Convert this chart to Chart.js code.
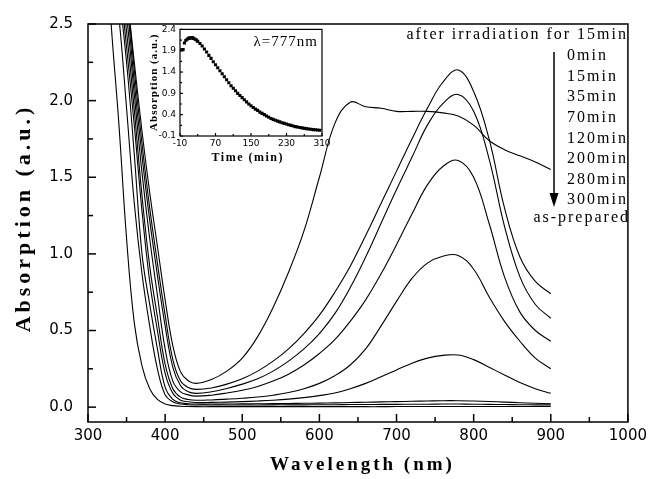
<!DOCTYPE html>
<html><head><meta charset="utf-8">
<script src="https://cdn.jsdelivr.net/npm/chart.js@4.4.0/dist/chart.umd.min.js"></script>
<style>
html,body{margin:0;padding:0;background:#fff;}
#wrap{position:relative;width:652px;height:479px;background:#fff;}
#main{position:absolute;left:0;top:0;}
#inset{position:absolute;left:140px;top:20px;}
</style></head><body>
<div id="wrap"><canvas id="main" width="652" height="479"></canvas><canvas id="inset" width="195" height="150"></canvas></div>
<script>
// ---------- data ----------
const wavelengths = [320,330,340,350,360,370,380,390,400,410,420,430,440,460,480,500,520,540,560,580,600,620,640,660,680,700,720,740,760,780,800,820,840,860,880,900];
const abs0min   = [3.6,3.4,3.05,2.7,2.25,1.8,1.4,1.05,0.7,0.4,0.23,0.172,0.155,0.18,0.235,0.32,0.46,0.65,0.88,1.15,1.5,1.85,1.99,1.96,1.95,1.93,1.93,1.93,1.92,1.9,1.84,1.74,1.68,1.64,1.6,1.55];
const abs15min  = [3.6,3.3,3.0,2.7,2.2,1.72,1.3,0.94,0.6,0.31,0.17,0.128,0.116,0.125,0.15,0.185,0.235,0.3,0.38,0.48,0.6,0.75,0.92,1.12,1.33,1.54,1.75,1.95,2.12,2.2,2.06,1.75,1.3,0.98,0.82,0.74];
const abs35min  = [3.5,3.3,3.0,2.65,2.12,1.64,1.22,0.86,0.53,0.26,0.14,0.1,0.09,0.1,0.122,0.15,0.185,0.235,0.3,0.38,0.48,0.61,0.78,0.98,1.2,1.42,1.63,1.84,1.98,2.04,1.93,1.62,1.18,0.85,0.67,0.58];
const abs70min  = [3.5,3.2,2.9,2.55,2.04,1.53,1.1,0.73,0.38,0.17,0.1,0.08,0.072,0.078,0.092,0.11,0.135,0.17,0.215,0.275,0.35,0.44,0.56,0.7,0.87,1.06,1.26,1.45,1.57,1.61,1.5,1.2,0.85,0.62,0.5,0.43];
const abs120min = [3.4,3.1,2.85,2.45,1.94,1.38,0.92,0.59,0.28,0.12,0.065,0.05,0.045,0.047,0.052,0.058,0.066,0.078,0.095,0.12,0.155,0.205,0.275,0.38,0.53,0.69,0.84,0.94,0.985,0.99,0.9,0.72,0.56,0.43,0.32,0.25];
const abs200min = [3.4,3.1,2.8,2.35,1.84,1.28,0.82,0.5,0.22,0.09,0.045,0.035,0.03,0.031,0.033,0.036,0.04,0.045,0.052,0.062,0.075,0.092,0.12,0.155,0.198,0.243,0.287,0.32,0.338,0.34,0.31,0.26,0.21,0.16,0.12,0.09];
const abs280min = [3.3,3.0,2.7,2.25,1.65,1.0,0.67,0.38,0.13,0.05,0.028,0.022,0.02,0.02,0.02,0.021,0.022,0.023,0.024,0.025,0.026,0.028,0.03,0.032,0.034,0.036,0.038,0.04,0.042,0.042,0.04,0.037,0.033,0.029,0.025,0.022];
const abs300min = [3.3,2.95,2.55,1.95,1.33,0.87,0.53,0.25,0.08,0.035,0.02,0.016,0.014,0.014,0.014,0.014,0.014,0.015,0.015,0.015,0.016,0.016,0.017,0.017,0.018,0.018,0.019,0.019,0.02,0.02,0.019,0.018,0.017,0.016,0.015,0.015];
const absPrepared = [3.3,2.5,1.85,1.1,0.55,0.27,0.12,0.05,0.02,0.01,0.006,0.004,0.003,0.003,0.003,0.003,0.003,0.003,0.003,0.003,0.003,0.003,0.003,0.003,0.003,0.004,0.004,0.004,0.004,0.004,0.004,0.004,0.004,0.004,0.004,0.004];
const seriesNames = ['0min','15min','35min','70min','120min','200min','280min','300min','as-prepared'];
const headerText = 'after irradiation for 15min';
const xTicks = [300,400,500,600,700,800,900,1000];
const xMinorTicks = [350,450,550,650,750,850,950];
const yTicks = [0,0.5,1,1.5,2,2.5];
const yMinorTicks = [0.25,0.75,1.25,1.75,2.25];
const xTitle = 'Wavelength (nm)';
const yTitle = 'Absorption (a.u.)';

const insetTime = [-6,-3,0,3,6,9,12,15,18,21,24,27,30,35,40,45,50,55,60,65,70,75,80,85,90,95,100,105,110,115,120,125,130,135,140,145,150,155,160,165,170,175,180,185,190,195,200,205,210,215,220,225,230,235,240,245,250,255,260,265,270,275,280,285,290,295,300,305];
const insetAbs  = [1.92,1.93,2.08,2.14,2.17,2.19,2.2,2.2,2.2,2.19,2.17,2.15,2.12,2.07,2.01,1.94,1.87,1.79,1.72,1.64,1.57,1.5,1.43,1.36,1.29,1.22,1.15,1.08,1.02,0.96,0.9,0.85,0.8,0.75,0.7,0.65,0.61,0.57,0.53,0.5,0.46,0.43,0.4,0.37,0.34,0.31,0.29,0.27,0.25,0.23,0.21,0.195,0.18,0.165,0.15,0.135,0.12,0.11,0.1,0.09,0.08,0.072,0.065,0.058,0.05,0.045,0.04,0.035];
const insetXTicks = [-10,70,150,230,310];
const insetXMinor = [30,110,190,270];
const insetYTicks = [-0.1,0.4,0.9,1.4,1.9,2.4];
const insetYMinor = [0.15,0.65,1.15,1.65,2.15];
const insetXTitle = 'Time (min)';
const insetYTitle = 'Absorption (a.u.)';
const insetNote = 'λ=777nm';

const allSeries = [abs0min,abs15min,abs35min,abs70min,abs120min,abs200min,abs280min,abs300min,absPrepared];

// ---------- helpers ----------
function seg(ctx,x1,y1,x2,y2){ctx.beginPath();ctx.moveTo(x1,y1);ctx.lineTo(x2,y2);ctx.stroke();}
function spacedText(ctx,text,x,y,font,spacing,align){
  ctx.font = font; ctx.letterSpacing = spacing+'px';
  ctx.textAlign = align; ctx.textBaseline='middle';
  let dx = 0;
  if (align==='right') dx = spacing; else if (align==='center') dx = spacing/2;
  ctx.fillText(text, x+dx, y);
  ctx.letterSpacing='0px';
}

const mainDecor = {
  id:'mainDecor',
  afterDraw(chart){
    const {ctx, chartArea:a, scales:{x,y}} = chart;
    ctx.save();
    ctx.strokeStyle='#000'; ctx.fillStyle='#000'; ctx.lineWidth=1.5;
    ctx.strokeRect(a.left, a.top, a.right-a.left, a.bottom-a.top);
    xTicks.forEach(v=>{const p=x.getPixelForValue(v); seg(ctx,p,a.bottom,p,a.bottom-8);});
    xMinorTicks.forEach(v=>{const p=x.getPixelForValue(v); seg(ctx,p,a.bottom,p,a.bottom-5);});
    yTicks.forEach(v=>{const p=y.getPixelForValue(v); seg(ctx,a.left,p,a.left+8,p);});
    yMinorTicks.forEach(v=>{const p=y.getPixelForValue(v); seg(ctx,a.left,p,a.left+5,p);});
    spacedText(ctx,xTitle,(a.left+a.right)/2+3,465,'bold 19px "Liberation Serif"',3,'center');
    ctx.save(); ctx.translate(24,(a.top+a.bottom)/2-3); ctx.rotate(-Math.PI/2);
    spacedText(ctx,yTitle,0,0,'bold 22px "Liberation Serif"',4,'center');
    ctx.restore();
    spacedText(ctx,headerText,626,35,'16px "Liberation Serif"',2,'right');
    for(let i=0;i<seriesNames.length-1;i++){
      spacedText(ctx,seriesNames[i],567,56+i*20.6,'16px "Liberation Serif"',2,'left');
    }
    spacedText(ctx,seriesNames[seriesNames.length-1],628,218,'16px "Liberation Serif"',2,'right');
    ctx.lineWidth=1.5;
    seg(ctx,554,52,554,196);
    ctx.beginPath(); ctx.moveTo(549.5,193); ctx.lineTo(558.5,193); ctx.lineTo(554,207); ctx.closePath(); ctx.fill();
    ctx.restore();
  }
};

new Chart(document.getElementById('main'), {
  type:'line',
  data:{datasets: allSeries.map((s,i)=>({
    label: seriesNames[i],
    data: wavelengths.map((w,j)=>({x:w,y:s[j]})),
    borderColor:'#000', borderWidth:1.1, pointRadius:0, fill:false,
    tension:0.4
  }))},
  options:{
    responsive:false, animation:false, devicePixelRatio:1,
    layout:{padding:{top:20,right:20,left:0,bottom:0}},
    plugins:{legend:{display:false}, tooltip:{enabled:false}},
    scales:{
      x:{type:'linear', min:300, max:1000,
        afterBuildTicks:s=>{s.ticks = xTicks.map(v=>({value:v}));},
        afterFit:s=>{s.height=57;},
        grid:{display:false, drawTicks:false}, border:{display:false},
        ticks:{padding:5, color:'#000', autoSkip:false, maxRotation:0, font:{family:'"DejaVu Sans"', size:15}, callback:v=>String(v)}},
      y:{type:'linear', min:-0.097, max:2.5,
        afterBuildTicks:s=>{s.ticks = yTicks.map(v=>({value:v}));},
        afterFit:s=>{s.width=88;},
        grid:{display:false, drawTicks:false}, border:{display:false},
        ticks:{padding:15, color:'#000', autoSkip:false, font:{family:'"DejaVu Sans"', size:15}, callback:v=>Number(v).toFixed(1)}}
    }
  },
  plugins:[mainDecor]
});

const insetDecor = {
  id:'insetDecor',
  afterDraw(chart){
    const {ctx, chartArea:a, scales:{x,y}} = chart;
    ctx.save();
    ctx.strokeStyle='#000'; ctx.fillStyle='#000'; ctx.lineWidth=1.2;
    ctx.strokeRect(a.left, a.top, a.right-a.left, a.bottom-a.top);
    insetXTicks.forEach(v=>{const p=x.getPixelForValue(v); seg(ctx,p,a.bottom,p,a.bottom-3);});
    insetXMinor.forEach(v=>{const p=x.getPixelForValue(v); seg(ctx,p,a.bottom,p,a.bottom-2);});
    insetYTicks.forEach(v=>{const p=y.getPixelForValue(v); seg(ctx,a.left,p,a.left+3,p);});
    insetYMinor.forEach(v=>{const p=y.getPixelForValue(v); seg(ctx,a.left,p,a.left+2,p);});
    spacedText(ctx,insetXTitle,107,138,'bold 12px "Liberation Serif"',1.5,'center');
    ctx.save(); ctx.translate(14,(a.top+a.bottom)/2); ctx.rotate(-Math.PI/2);
    spacedText(ctx,insetYTitle,0,0,'bold 11px "Liberation Serif"',1,'center');
    ctx.restore();
    spacedText(ctx,insetNote,177,22,'15px "Liberation Serif"',1,'right');
    ctx.restore();
  }
};

new Chart(document.getElementById('inset'), {
  type:'scatter',
  data:{datasets:[{
    label:'λ=777nm',
    data: insetTime.map((t,i)=>({x:t,y:insetAbs[i]})),
    pointStyle:'rect', pointRadius:2.2, backgroundColor:'#000', borderColor:'#000', borderWidth:0, showLine:false
  }]},
  options:{
    responsive:false, animation:false, devicePixelRatio:1,
    layout:{padding:{top:8,right:13,left:0,bottom:0}},
    plugins:{legend:{display:false}, tooltip:{enabled:false}},
    scales:{
      x:{type:'linear', min:-10, max:310,
        afterBuildTicks:s=>{s.ticks = insetXTicks.map(v=>({value:v}));},
        afterFit:s=>{s.height=34;},
        grid:{display:false, drawTicks:false}, border:{display:false},
        ticks:{padding:2, color:'#000', autoSkip:false, maxRotation:0, font:{family:'"DejaVu Sans"', size:9}, callback:v=>String(v)}},
      y:{type:'linear', min:-0.1, max:2.4,
        afterBuildTicks:s=>{s.ticks = insetYTicks.map(v=>({value:v}));},
        afterFit:s=>{s.width=40;},
        grid:{display:false, drawTicks:false}, border:{display:false},
        ticks:{padding:4, color:'#000', autoSkip:false, font:{family:'"DejaVu Sans"', size:9}, callback:v=>Number(v).toFixed(1)}}
    }
  },
  plugins:[insetDecor]
});
</script>
</body></html>
